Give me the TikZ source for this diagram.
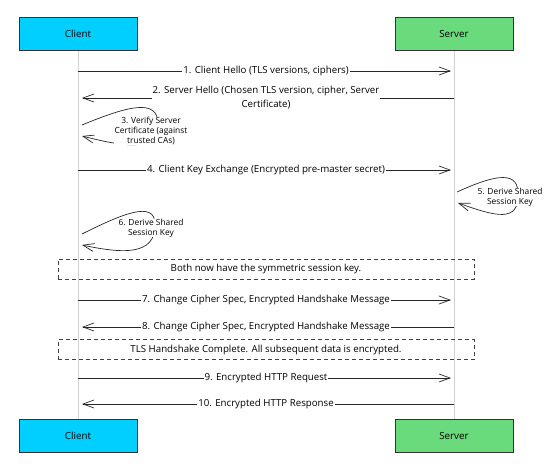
\documentclass[tikz,border=0pt]{standalone}
\usepackage{fontspec}
\setmainfont{Open Sans}
\usetikzlibrary{positioning,arrows.meta}
\definecolor{clientblue}{HTML}{00CFFF}
\definecolor{servergreen}{HTML}{69DB7C}

\begin{document}
\begin{tikzpicture}[x=1pt,y=-1pt,
    actor/.style={draw=black!80, line width=0.7pt, minimum width=118pt, minimum height=33pt, font=\fontsize{9.8}{11}\selectfont},
    lifeline/.style={draw=black!18, line width=1pt},
    msg/.style={draw=black!85, line width=0.7pt, -{Straight Barb[length=11pt,width=8pt]}},
    lbl/.style={fill=white, inner xsep=1pt, inner ysep=1pt, font=\fontsize{9.7}{14}\selectfont, align=center},
    small/.style={fill=white, inner xsep=1pt, inner ysep=0pt, font=\fontsize{8.4}{10.3}\selectfont, align=center},
    note/.style={draw=black!75, line width=0.8pt, dash pattern=on 4pt off 3pt, minimum width=416pt, minimum height=20pt, font=\fontsize{9.7}{10}\selectfont}
  ]
  \useasboundingbox (0,0) rectangle (560,471);
  % Actors
  \node[actor, fill=clientblue] (client) at (78,34) {Client};
  \node[actor, fill=servergreen] (server) at (454,34) {Server};
  \node[actor, fill=clientblue] (clientb) at (78,436) {Client};
  \node[actor, fill=servergreen] (serverb) at (454,436) {Server};
  % Lifelines
  \draw[lifeline] (client) -- (clientb);
  \draw[lifeline] (server) -- (serverb);
  % Rows
  \coordinate (r1) at (78,71);
  \coordinate (r2) at (78,98);
  \coordinate (r3) at (82,125);
  \coordinate (r4) at (78,170);
  \coordinate (r5) at (457,192);
  \coordinate (r6) at (82,234);
  \coordinate (r7) at (78,300);
  \coordinate (r8) at (78,327);
  \coordinate (r9) at (78,378);
  \coordinate (r10) at (78,404);
  % Messages
  \draw[msg, shorten >=3pt] (r1) -- (r1 -| server) node[midway, lbl] {1. Client Hello (TLS versions, ciphers)};
  \draw[msg, shorten >=4pt] (r2 -| server) -- (r2) node[midway, lbl] {2. Server Hello (Chosen TLS version, cipher, Server\\Certificate)};
  \draw[msg] (r3) .. controls (128,106) and (158,98) .. (158,124) .. controls (158,152) and (125,147) .. (82,136);
  \node[small] (verify) at (151,131) {3. Verify Server\\Certificate (against\\trusted CAs)};
  \draw[msg, shorten >=3pt] (r4) -- (r4 -| server) node[midway, lbl] {4. Client Key Exchange (Encrypted pre-master secret)};
  \draw[msg] (r5) .. controls (488,178) and (517,168) .. (518,192) .. controls (520,224) and (495,216) .. (458,203);
  \node[small] (derives) at (510,197) {5. Derive Shared\\Session Key};
  \draw[msg] (r6) .. controls (122,214) and (155,200) .. (155,224) .. controls (156,257) and (120,253) .. (82,245);
  \node[small] (derivec) at (151,228) {6. Derive Shared\\Session Key};
  % Note
  \node[note] (both) at (266,269) {Both now have the symmetric session key.};
  \draw[msg, shorten >=3pt] (r7) -- (r7 -| server) node[midway, lbl] {7. Change Cipher Spec, Encrypted Handshake Message};
  \draw[msg, shorten >=4pt] (r8 -| server) -- (r8) node[midway, lbl] {8. Change Cipher Spec, Encrypted Handshake Message};
  % Note
  \node[note] (done) at (266,349.5) {TLS Handshake Complete. All subsequent data is encrypted.};
  \draw[msg, shorten >=3pt] (r9) -- (r9 -| server) node[midway, lbl] {9. Encrypted HTTP Request};
  \draw[msg, shorten >=4pt] (r10 -| server) -- (r10) node[midway, lbl] {10. Encrypted HTTP Response};
\end{tikzpicture}
\end{document}
